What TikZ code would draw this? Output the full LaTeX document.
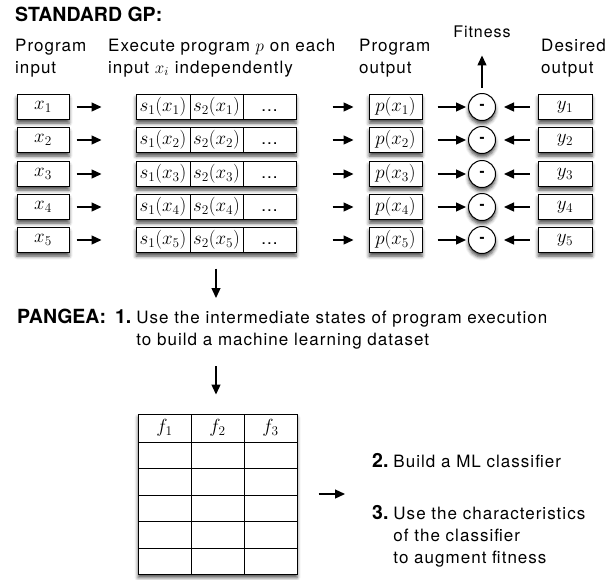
\documentclass[tikz,border=0pt]{standalone}
\usepackage{fix-cm}
\usepackage[no-math]{fontspec}
\setmainfont{TeX Gyre Heros}[LetterSpace=6,BoldFeatures={LetterSpace=0}]
\usetikzlibrary{arrows.meta,shadows.blur}
\newcommand\lblfont{\fontsize{17}{22}\selectfont}
\newcommand\ttlfont{\fontsize{19.5}{22}\selectfont\bfseries}
\newcommand\mthfont{\fontsize{19}{20}\selectfont}
\tikzset{
  shd/.style={blur shadow={shadow xshift=0pt,shadow yshift=-3.5pt,shadow blur radius=3.5pt,shadow opacity=70}},
  box/.style={draw,line width=1pt,fill=white,minimum height=25pt,inner sep=0pt,font=\mthfont,shd},
  cell/.style={draw,line width=1pt,minimum height=25pt,inner sep=0pt,font=\mthfont},
  minus/.style={draw,circle,line width=1pt,fill=white,minimum size=27pt,inner sep=0pt,font=\fontsize{15}{16}\selectfont\bfseries,shd},
  arr/.style={line width=1.3pt,-{Triangle[length=10pt,width=9pt]}},
  txt/.style={inner sep=0pt,anchor=base west},
}
\begin{document}
\begin{tikzpicture}[x=1pt,y=-1pt]
\useasboundingbox (0,0) rectangle (613,579);
% titles and column labels
\node[txt,font=\ttlfont] (title) at (15,21) {STANDARD GP:};
\node[txt,font=\lblfont] (lin) at (15,51) {\begin{tabular}[t]{@{}l@{}}Program\\input\end{tabular}};
\node[txt,font=\lblfont] (lexe) at (108,51) {\begin{tabular}[t]{@{}l@{}}Execute program $p$ on each\\input $x_i$ independently\end{tabular}};
\node[txt,font=\lblfont] (lout) at (359,51) {\begin{tabular}[t]{@{}l@{}}Program\\output\end{tabular}};
\node[txt,font=\lblfont] (ldes) at (541,51) {\begin{tabular}[t]{@{}l@{}}Desired\\output\end{tabular}};
\node[inner sep=0pt,anchor=base,font=\fontsize{16}{18}\selectfont] (fit) at (482,37) {Fitness};
% rows
\foreach \i/\y in {1/107,2/140,3/174,4/207,5/240}{
  \node[box,minimum width=52pt] (x\i) at (43,\y) {$x_\i$};
  \node[box,minimum width=160pt] (st\i) at (216,\y) {};
  \node[cell,minimum width=54pt] (sa\i) at (163,\y) {$s_1(x_\i)$};
  \node[cell,minimum width=53pt] (sb\i) at (216.5,\y) {$s_2(x_\i)$};
  \node[cell,minimum width=53pt,font=\lblfont] (sc\i) at (269.5,\y) {\vphantom{Ag}.{}.{}.};
  \node[box,minimum width=53pt] (p\i) at (395.5,\y) {$p(x_\i)$};
  \node[minus] (c\i) at (482,\y) {-};
  \node[box,minimum width=54pt] (yy\i) at (565,\y) {$y_\i$};
  \draw[arr,shorten <=7pt,shorten >=34pt] (x\i) -- (st\i);
  \draw[arr,shorten <=36pt,shorten >=15pt] (st\i) -- (p\i);
  \draw[arr,shorten <=15pt,shorten >=2pt] (p\i) -- (c\i);
  \draw[arr,shorten <=8pt,shorten >=8pt] (yy\i) -- (c\i);
}
\draw[arr,shorten <=5.5pt,shorten >=18pt] (c1) -- (fit);
% PANGEA
\coordinate (d1) at (216,298);
\draw[arr,shorten <=15.5pt] (st5.south) -- (d1);
\node[txt,font=\lblfont] (pangea) at (17,323) {\begin{tabular}[t]{@{}l@{\hspace{9pt}}l@{\hspace{5pt}}l@{}}\ttlfont PANGEA: & \ttlfont 1. & Use the intermediate states of program execution\\ & & to build a machine learning dataset\end{tabular}};
% table
\coordinate (d2) at (216,366);
\node[draw,line width=1pt,fill=white,minimum width=159pt,minimum height=160pt,inner sep=0pt,shd] (tab) at (217.5,494) {};
\draw[arr,shorten >=19pt] (d2) -- (d2 |- tab.north);
\foreach \xx in {191,244} \draw[line width=1pt] (\xx,414) -- (\xx,574);
\foreach \yy in {442,468,495,521,548} \draw[line width=1pt] (138,\yy) -- (297,\yy);
\node[font=\mthfont,inner sep=0pt] (f1) at (164.5,428) {$f_1$};
\node[font=\mthfont,inner sep=0pt] (f2) at (217.5,428) {$f_2$};
\node[font=\mthfont,inner sep=0pt] (f3) at (270.5,428) {$f_3$};
% steps 2 and 3
\coordinate (r1) at (345,494);
\draw[arr,shorten <=21pt] (tab.east) -- (r1);
\node[txt,font=\lblfont] (step2) at (372,467) {\begin{tabular}[t]{@{}l@{\hspace{5pt}}l@{}}\ttlfont 2. & Build a ML classifier\end{tabular}};
\node[txt,font=\lblfont] (step3) at (372,519) {\begin{tabular}[t]{@{}l@{\hspace{5pt}}l@{}}\ttlfont 3. & Use the characteristics\\ & of the classifier\\ & to augment fitness\end{tabular}};
\end{tikzpicture}
\end{document}
